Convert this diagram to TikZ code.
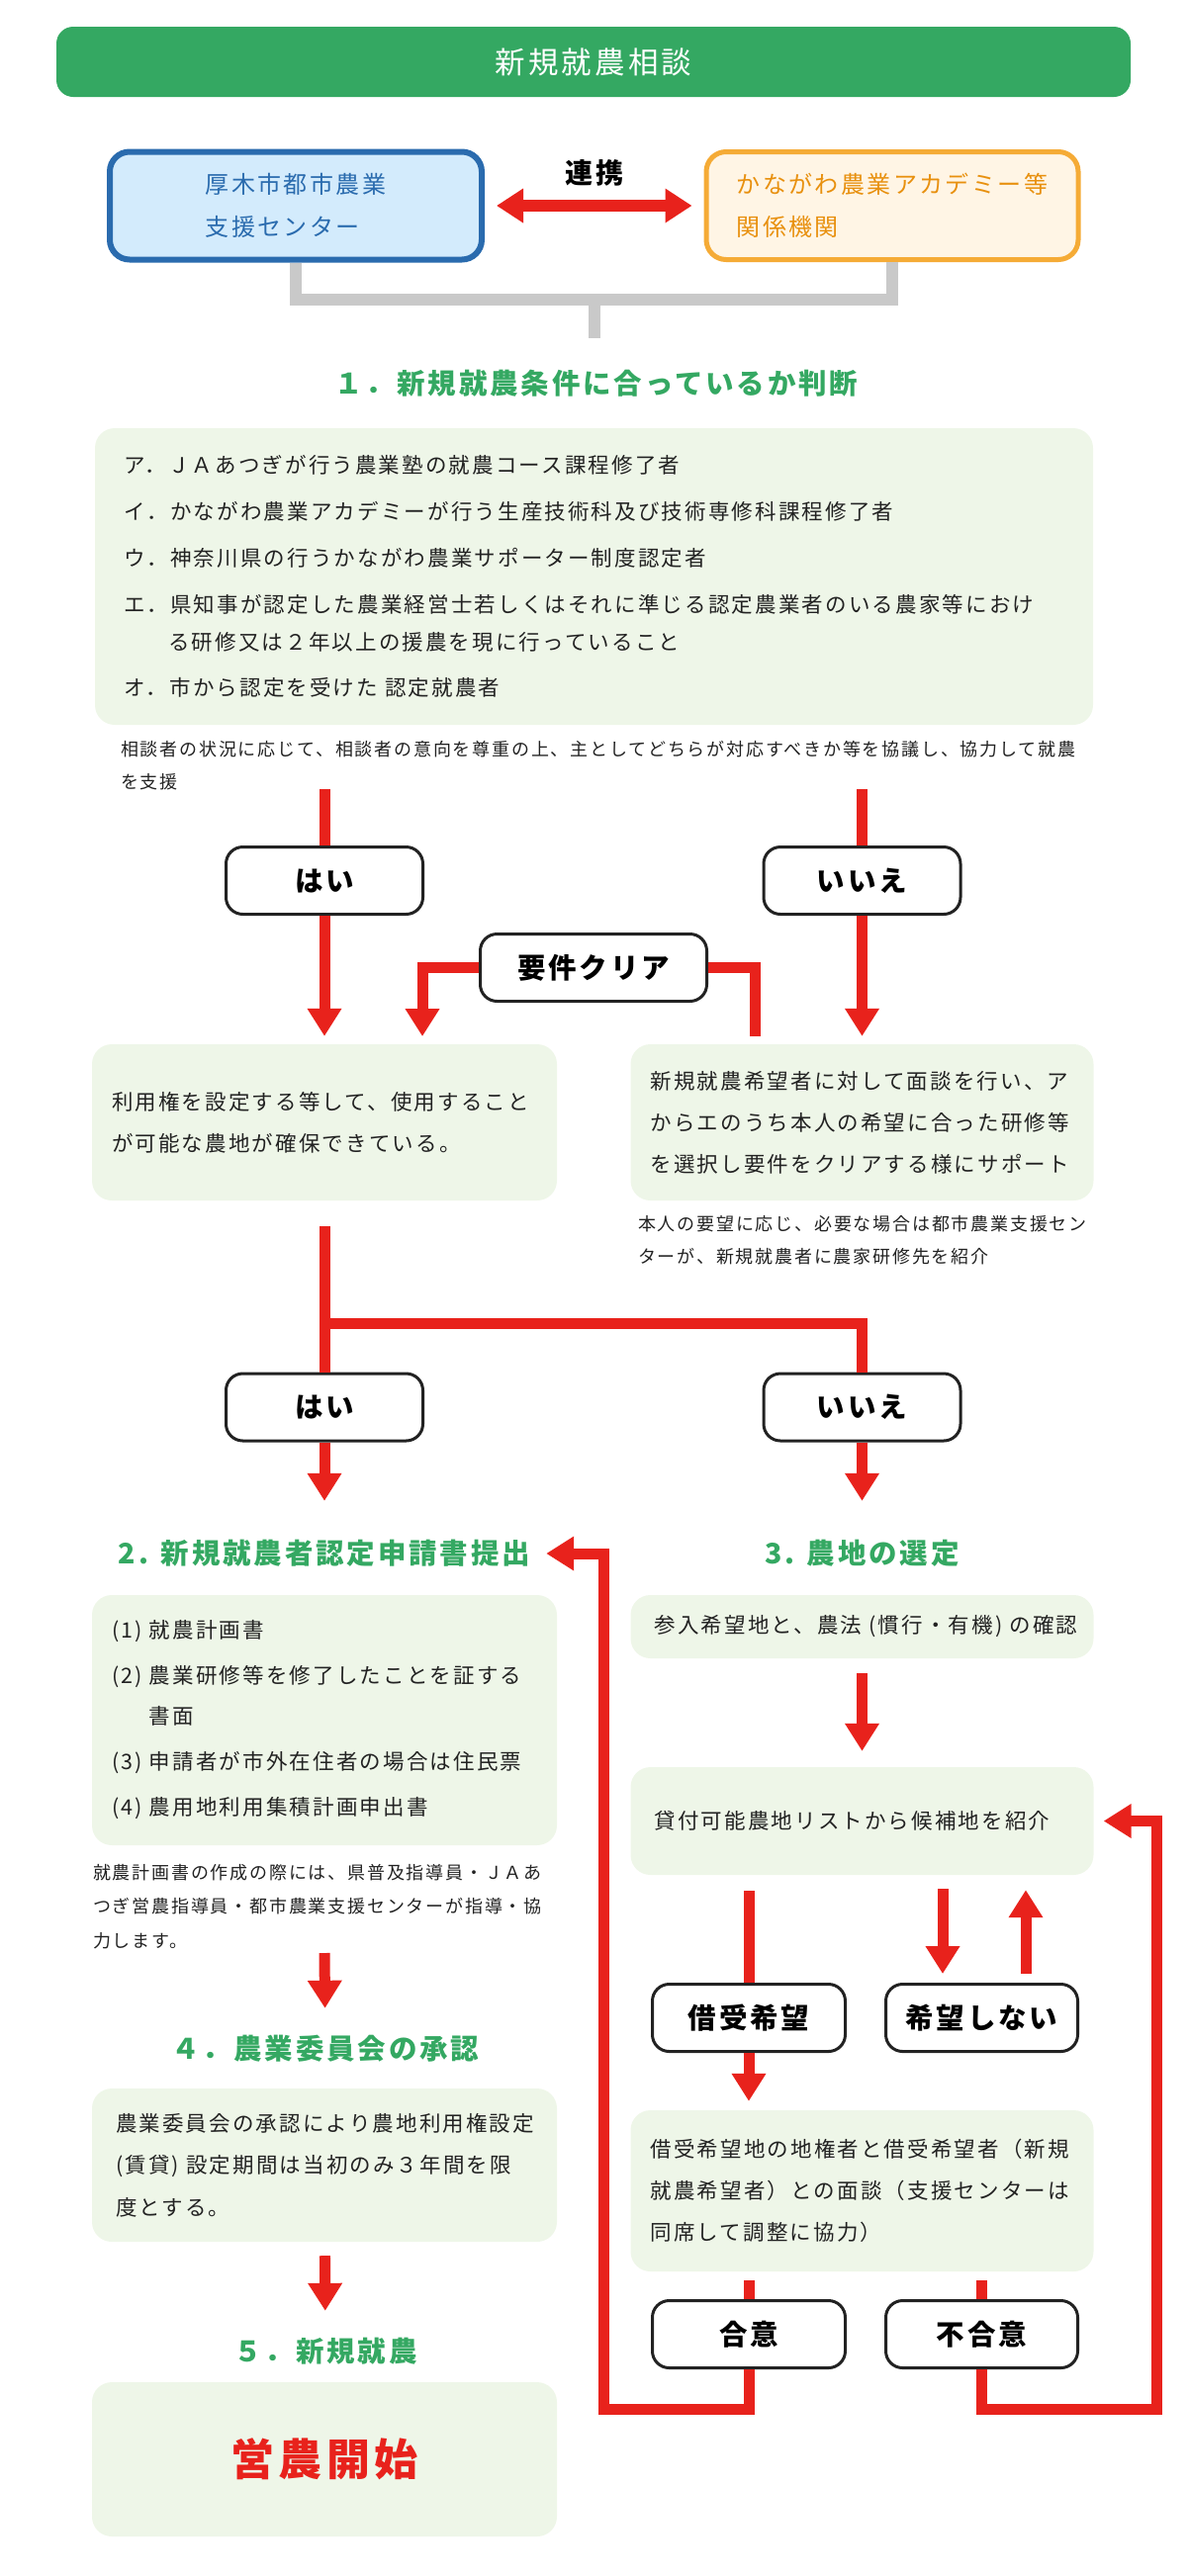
\documentclass[tikz,border=0pt]{standalone}
\usepackage{fontspec}
\setmainfont{Noto Sans CJK JP}[LetterSpace=10]
\usepackage{xcolor}
\usepackage{tikz}
\usetikzlibrary{shapes.geometric, arrows.meta, positioning}
\definecolor{farmgreen}{HTML}{34A862}
\definecolor{panelgreen}{HTML}{EEF6E8}
\definecolor{flowred}{HTML}{E8221C}
\definecolor{cityblue}{HTML}{2A6BAE}
\definecolor{cityfill}{HTML}{D3EBFC}
\definecolor{academyline}{HTML}{F5AB36}
\definecolor{academyfill}{HTML}{FFF5E5}
\definecolor{academytext}{HTML}{E8900E}
\definecolor{bracketgray}{HTML}{C9C9C9}
\definecolor{ink}{HTML}{222222}
\tikzstyle{titlebar} = [rectangle, rounded corners=17pt, fill=farmgreen, text=white, minimum width=1086pt, minimum height=71pt, font=\fontsize{30.5}{36}\selectfont]
\tikzstyle{orgbox} = [rectangle, rounded corners=20pt, minimum width=376pt, minimum height=109pt, align=left, font=\fontsize{24}{43}\selectfont]
\tikzstyle{answer} = [rectangle, rounded corners=17pt, draw=ink, line width=3pt, fill=white, minimum width=199pt, minimum height=68pt, text centered, text=black, font=\fontsize{28.5}{34}\selectfont\bfseries, text height=25pt, text depth=3.5pt]
\tikzstyle{panel} = [rectangle, rounded corners=20pt, fill=panelgreen, minimum width=470pt, text width=430pt, inner xsep=20pt, align=left, text=ink, font=\fontsize{21.5}{42}\selectfont]
\tikzstyle{heading} = [inner sep=0pt, text=farmgreen, font=\fontsize{28.5}{34}\selectfont\bfseries, text height=25pt, text depth=3.5pt]
\tikzstyle{note} = [inner sep=0pt, anchor=north west, align=left, text=ink, font=\fontsize{18}{33}\selectfont]
\tikzstyle{redline} = [draw=flowred, line width=11pt]
\tikzstyle{redarrow} = [redline, -{Triangle[length=28pt,width=33pt]}]
\tikzstyle{linkarrow} = [draw=flowred, line width=12pt, {Triangle[length=27pt,width=33pt]}-{Triangle[length=27pt,width=33pt]}]
\tikzstyle{bracket} = [draw=bracketgray, line width=12pt]
\begin{document}
\begin{tikzpicture}[x=1pt, y=-1pt, node distance=543.5pt]
    \useasboundingbox (0,0) rectangle (1200,2605);

    \node (consult) [titlebar] at (600,62.5) {新規就農相談};
    \node (center) [orgbox, draw=cityblue, line width=6pt, fill=cityfill, text=cityblue] at (299,208) {厚木市都市農業\\支援センター};
    \node (academy) [orgbox, draw=academyline, line width=5pt, fill=academyfill, text=academytext] at (902,208) {かながわ農業アカデミー等\\関係機関};
    \draw [linkarrow, shorten <=12pt, shorten >=12pt] (center.east) -- node[above=13pt, inner sep=0pt, text=black, font=\fontsize{28}{34}\selectfont\bfseries, text height=25pt, text depth=3.5pt] (renkei) {連携} (academy.west);

    \coordinate (meet) at (601,303);
    \coordinate (stem) at (601,342);
    \draw [bracket] (center.south) |- (meet) -| (academy.south);
    \draw [bracket] (meet) -- (stem);

    \node (judge) [heading] at (603,388) {１．新規就農条件に合っているか判断};
    \node (criteria) [panel, minimum width=1009pt, text width=951pt, inner xsep=29pt, minimum height=300pt, font=\fontsize{21.5}{38}\selectfont] at (600.5,583) {ア．ＪＡあつぎが行う農業塾の就農コース課程修了者\\[9pt]イ．かながわ農業アカデミーが行う生産技術科及び技術専修科課程修了者\\[9pt]ウ．神奈川県の行うかながわ農業サポーター制度認定者\\[9pt]エ．県知事が認定した農業経営士若しくはそれに準じる認定農業者のいる農家等におけ\\\phantom{エ．}る研修又は２年以上の援農を現に行っていること\\[8pt]オ．市から認定を受けた~認定就農者};
    \node (consultnote) [note] at (122,749) {相談者の状況に応じて、相談者の意向を尊重の上、主としてどちらが対応すべきか等を協議し、協力して就農\\を支援};

    \coordinate (yestop) at (328,798);
    \coordinate (notop) at (871.5,798);
    \node (yes1) [answer] at (328,890.5) {はい};
    \node (no1) [answer, right of=yes1] {いいえ};
    \draw [redline] (yestop) -- (yes1);
    \draw [redline] (notop) -- (no1);

    \node (clear) [answer, minimum width=229pt] at (600,978.5) {要件クリア};
    \node (secured) [panel, minimum height=158pt] at (328,1135) {利用権を設定する等して、使用すること\\が可能な農地が確保できている。};
    \node (support) [panel, minimum width=468pt, text width=428pt, minimum height=158pt] at (871.5,1135) {新規就農希望者に対して面談を行い、ア\\からエのうち本人の希望に合った研修等\\を選択し要件をクリアする様にサポート};
    \node (intronote) [note] at (645,1229) {本人の要望に応じ、必要な場合は都市農業支援セン\\ターが、新規就農者に農家研修先を紹介};

    \coordinate (clearleft) at (427,1048);
    \coordinate (clearright) at (763,1048);
    \draw [redarrow, shorten >=8pt] (yes1) -- (secured);
    \draw [redarrow, shorten >=8pt] (no1) -- (support);
    \draw [redarrow] (clear.west) -| (clearleft);
    \draw [redline] (clear.east) -| (clearright);

    \coordinate (yesstart) at (328,1240);
    \coordinate (split) at (328,1338);
    \node (yes2) [answer] at (328,1423) {はい};
    \node (no2) [answer, right of=yes2] {いいえ};
    \draw [redline] (yesstart) -- (yes2);
    \draw [redline] (split) -| (no2);

    \node (apply) [heading] at (328,1571) {2. 新規就農者認定申請書提出};
    \node (select) [heading, right of=apply] {3. 農地の選定};
    \draw [redarrow, shorten >=38.75pt] (yes2) -- (apply);
    \draw [redarrow, shorten >=38.75pt] (no2) -- (select);

    \node (documents) [panel, minimum height=253pt, font=\fontsize{21.5}{41}\selectfont] at (328,1739.5) {(1) 就農計画書\\[5pt](2) 農業研修等を修了したことを証する\\\phantom{(2) }書面\\[5pt](3) 申請者が市外在住者の場合は住民票\\[5pt](4) 農用地利用集積計画申出書};
    \node (plannote) [note, font=\fontsize{18}{34.5}\selectfont] at (94,1885) {就農計画書の作成の際には、県普及指導員・ＪＡあ\\つぎ営農指導員・都市農業支援センターが指導・協\\力します。};

    \node (confirm) [panel, minimum width=468pt, text width=420pt, inner xsep=24pt, minimum height=64pt] at (871.5,1645) {参入希望地と、農法~(慣行・有機)~の確認};
    \node (landlist) [panel, minimum width=468pt, text width=420pt, inner xsep=24pt, minimum height=109pt] at (871.5,1841.5) {貸付可能農地リストから候補地を紹介};
    \draw [redarrow, shorten <=15pt, shorten >=16pt] (confirm) -- (landlist);

    \node (want) [answer, minimum width=195pt] at (757,2040.5) {借受希望};
    \node (nowant) [answer, minimum width=194pt] at (992.5,2040.5) {希望しない};
    \coordinate (downx) at ([xshift=-39.5pt]nowant.north);
    \coordinate (upx) at ([xshift=44.5pt]nowant.north);
    \draw [redline, shorten <=16pt] (landlist.south -| want) -- (want);
    \draw [redarrow, shorten <=14pt, shorten >=9pt] (downx |- landlist.south) -- (downx);
    \draw [redarrow, shorten <=9pt, shorten >=15pt] (upx) -- (upx |- landlist.south);

    \node (meeting) [panel, minimum width=468pt, text width=428pt, minimum height=163pt] at (871.5,2215.5) {借受希望地の地権者と借受希望者（新規\\就農希望者）との面談（支援センターは\\同席して調整に協力）};
    \draw [redarrow, shorten >=9pt] (want) -- (meeting.north -| want);

    \node (agree) [answer, minimum width=195pt] at (757,2360.5) {合意};
    \node (disagree) [answer, minimum width=194pt] at (992.5,2360.5) {不合意};
    \draw [redline, shorten <=9pt] (meeting.south -| agree) -- (agree);
    \draw [redline, shorten <=9pt] (meeting.south -| disagree) -- (disagree);

    \coordinate (loopleft) at (610,2436.5);
    \coordinate (loopright) at (1169,2436.5);
    \draw [redarrow, shorten >=16pt] (agree) |- (loopleft) |- (apply.east);
    \draw [redarrow, shorten >=10pt] (disagree) |- (loopright) |- (landlist.east);

    \coordinate (plandown) at (328,1975);
    \node (approve) [heading] at (329,2072) {４．農業委員会の承認};
    \draw [redarrow, shorten >=26.75pt] (plandown) -- (approve);
    \node (approval) [panel, minimum height=155pt, text width=422pt, inner xsep=24pt, font=\fontsize{21.5}{42.5}\selectfont] at (328,2189.5) {農業委員会の承認により農地利用権設定\\(賃貸)~設定期間は当初のみ３年間を限\\度とする。};
    \node (startup) [heading] at (329,2378) {５．新規就農};
    \draw [redarrow, shorten <=14pt, shorten >=26.75pt] (approval) -- (startup);
    \node (launch) [panel, minimum height=156pt, align=center, text=flowred, font=\fontsize{44}{50}\selectfont\bfseries] at (328,2487) {営農開始};
\end{tikzpicture}
\end{document}
